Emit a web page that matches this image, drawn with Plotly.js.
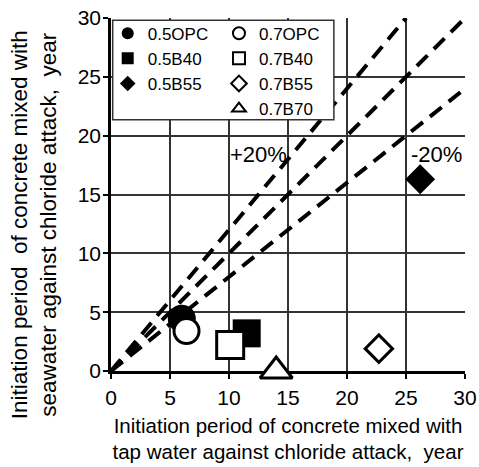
<!DOCTYPE html>
<html>
<head>
<meta charset="utf-8">
<script src="https://cdn.plot.ly/plotly-3.0.1.min.js"></script>
<style>html,body{margin:0;padding:0;background:#fff;}#chart{width:479px;height:467px;}</style>
</head>
<body>
<div id="chart"></div>
<script>
// Series (tap water period, seawater period), years
const seriesNames = ["0.5OPC", "0.7OPC", "0.5B40", "0.7B40", "0.5B55", "0.7B55", "0.7B70"];
const tapWater = [6.0, 6.4, 11.5, 10.1, 26.2, 22.7, 14.0];
const seaWater = [4.45, 3.4, 3.2, 2.2, 16.3, 1.9, 0.0];
const symbols = ["circle", "circle", "square", "square", "diamond", "diamond", "triangle-up"];
const filled = [true, false, true, false, true, false, false];

// Reference lines: y = 1.2x (+20%), y = x, y = 0.8x (-20%)
const refLineX = [[0, 25], [0, 30], [0, 30]];
const refLineY = [[0, 30], [0, 30], [0, 24]];
const refLabels = ["+20%", "-20%"];
const refLabelX = [12.5, 27.6];
const refLabelY = [18.4, 18.4];

const xTitle = "Initiation period of concrete mixed with<br>tap water against chloride attack,  year";
const yTitle = "Initiation period  of concrete mixed with<br>seawater against chloride attack,  year";

const sizes = {circle: [28, 25], square: [28, 27], diamond: [23, 21], "triangle-up": [28, 28]};

const traces = [];
refLineX.forEach((xs, i) => {
  traces.push({
    x: xs, y: refLineY[i], mode: "lines", type: "scatter", showlegend: false,
    hoverinfo: "skip",
    line: {color: "black", width: 4, dash: "15px,9px"}
  });
});

seriesNames.forEach((name, i) => {
  const s = sizes[symbols[i]];
  traces.push({
    x: [tapWater[i]], y: [seaWater[i]], mode: "markers", type: "scatter", name: name,
    legend: filled[i] ? "legend" : "legend2",
    cliponaxis: false,
    marker: filled[i]
      ? {symbol: symbols[i], size: s[0], color: "black", line: {width: 0}}
      : {symbol: symbols[i], size: s[1], color: "white", line: {color: "black", width: 3}}
  });
});

const font = "Arial, 'Liberation Sans', sans-serif";
const legendCommon = {
  orientation: "v", xanchor: "left", yanchor: "top", y: 1.0065,
  itemsizing: "constant", borderwidth: 0, bgcolor: "rgba(0,0,0,0)",
  font: {family: font, size: 17, color: "black"},
  traceorder: "normal", itemclick: false, itemdoubleclick: false
};

const layout = {
  width: 479, height: 467,
  margin: {l: 111, r: 14, t: 18, b: 96},
  paper_bgcolor: "white", plot_bgcolor: "rgba(0,0,0,0)",
  font: {family: font, color: "black", size: 21},
  showlegend: true,
  legend: Object.assign({x: -0.0093}, legendCommon),
  legend2: Object.assign({x: 0.305}, legendCommon),
  shapes: [{
    type: "rect", xref: "paper", yref: "paper",
    x0: 0.0048, x1: 0.6296, y0: 0.712, y1: 0.9938,
    line: {color: "#333", width: 1.5}, fillcolor: "white", layer: "above"
  }],
  xaxis: {
    range: [0, 30], tickmode: "linear", tick0: 0, dtick: 5,
    showgrid: true, gridcolor: "#333", gridwidth: 1.5,
    zeroline: false, showline: true, linecolor: "black", linewidth: 2.5,
    ticks: "outside", ticklen: 5, tickwidth: 1.5, tickcolor: "black",
    ticklabelstandoff: 1, layer: "below traces",
    tickfont: {size: 21},
    title: {text: xTitle, font: {size: 20.5}, standoff: 11}
  },
  yaxis: {
    range: [0, 30], tickmode: "linear", tick0: 0, dtick: 5,
    showgrid: true, gridcolor: "#333", gridwidth: 1.5,
    zeroline: false, showline: true, linecolor: "black", linewidth: 2.5,
    ticks: "outside", ticklen: 5, tickwidth: 1.5, tickcolor: "black",
    ticklabelstandoff: -2, layer: "below traces",
    tickfont: {size: 21}
  },
  annotations: refLabels.map((t, i) => ({
    x: refLabelX[i], y: refLabelY[i], xref: "x", yref: "y", text: t, showarrow: false,
    font: {family: font, size: 22, color: "black"}
  })).concat([{
    // y-axis title, placed as in the reference (slightly below the plot centre)
    xref: "paper", yref: "paper", x: -0.2185, y: 0.415, xanchor: "center", yanchor: "middle",
    text: yTitle, textangle: -90, showarrow: false,
    font: {family: font, size: 22.5, color: "black"}
  }])
};

Plotly.newPlot("chart", traces, layout, {displayModeBar: false});
</script>
</body>
</html>
